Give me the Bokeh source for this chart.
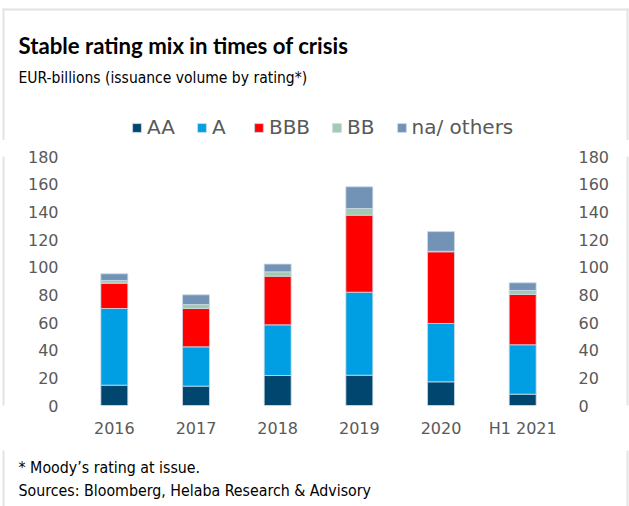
from bokeh.plotting import figure
from bokeh.layouts import column, row
from bokeh.models import (ColumnDataSource, FactorRange, Range1d, LinearAxis, Legend,
                          LegendItem, Label, FixedTicker, BoxAnnotation)
from bokeh.embed import file_html
from bokeh.resources import INLINE

# ---- data ----
years = ["2016", "2017", "2018", "2019", "2020", "H1 2021"]
aa = [14.7, 14.0, 21.7, 21.9, 17.1, 8.2]
a = [55.4, 28.4, 36.6, 60.0, 42.2, 35.7]
bbb = [18.3, 27.7, 35.2, 55.7, 51.8, 36.4]
bb = [2.0, 2.9, 3.1, 4.8, 0.4, 2.9]
others = [4.8, 7.0, 5.6, 15.7, 14.2, 5.5]
series = ["AA", "A", "BBB", "BB", "na/ others"]
colors = ["#00466f", "#009fe3", "#ff0000", "#a1cbb1", "#7293b5"]
y_ticks = [0, 20, 40, 60, 80, 100, 120, 140, 160, 180]

W, H = 629, 506
TOP_H, BOT_H = 140, 56
MID_H = H - TOP_H - BOT_H
STRIP = 8
FRAME_GREY = "#e3e3e3"
label_color = "#595959"
tick_font = "DejaVu Sans"
head_font = "Lato"
text_font = "DejaVu Sans Condensed"
LIFT = 7  # Label baseline correction


def blank(width, height, x_range=None):
    f = figure(width=width, height=height, x_range=x_range or Range1d(0, 1),
               y_range=Range1d(0, 1), output_backend="svg", toolbar_location=None,
               x_axis_location=None, y_axis_location=None, min_border=0)
    f.outline_line_color = None
    f.grid.grid_line_color = None
    f.background_fill_color = "white"
    f.border_fill_color = "white"
    return f


def border(f, left, right, top, bottom):
    f.add_layout(BoxAnnotation(left=left, right=right, top=top, bottom=bottom,
                               left_units="screen", right_units="screen",
                               top_units="screen", bottom_units="screen",
                               fill_color=FRAME_GREY, fill_alpha=1, line_alpha=0))


def lab(f, fh, text, px, pbase, size, bold=False, font=text_font, color="#000000"):
    f.add_layout(Label(x=px, y=fh - pbase + LIFT, x_units="screen", y_units="screen", text=text,
                       text_font=font, text_font_size=size,
                       text_font_style="bold" if bold else "normal",
                       text_color=color, text_baseline="alphabetic"))


src = ColumnDataSource(dict(year=years, AA=aa, A=a, BBB=bbb, BB=bb, **{"na/ others": others}))

# ---- header: title, subtitle, legend ----
top = blank(W, TOP_H, x_range=FactorRange(*years))
lrs = top.vbar_stack(series, x="year", width=0.33, source=src, color=colors,
                     line_color="#cbd9e6", line_width=0.8)
for r in lrs:
    r.visible = False  # legend keys only; the bars are drawn in the main chart
lab(top, TOP_H, "Stable rating mix in times of crisis", 18, 52, "22.2px", bold=True, font=head_font)
lab(top, TOP_H, "EUR-billions (issuance volume by rating*)", 18, 84, "15.5px")
leg = Legend(items=[LegendItem(label=s, renderers=[r]) for s, r in zip(series, lrs)],
             orientation="horizontal", location=(131, 1),
             glyph_width=11, glyph_height=11, label_standoff=5, spacing=21,
             padding=0, margin=0, border_line_color=None, background_fill_alpha=0,
             inactive_fill_alpha=0,
             label_text_font=tick_font, label_text_font_size="20px",
             label_text_color=label_color, label_height=11)
top.add_layout(leg, "center")
border(top, 2, 628, TOP_H - 8, TOP_H - 10)
border(top, 2, 4, TOP_H - 8, -5)
border(top, 626, 628, TOP_H - 8, -5)

# ---- main chart ----
p = figure(width=W - 2 * STRIP, height=MID_H, x_range=FactorRange(*years),
           y_range=Range1d(0, 180), output_backend="svg", toolbar_location=None,
           y_axis_location=None, min_border_left=73 - STRIP, min_border_right=W - STRIP - 563,
           min_border_top=156 - TOP_H, min_border_bottom=TOP_H + MID_H - 405)
p.outline_line_color = None
p.background_fill_color = "white"
p.border_fill_color = "white"
p.xgrid.grid_line_color = None
p.ygrid.grid_line_color = None

p.vbar_stack(series, x="year", width=0.33, source=src, color=colors,
             line_color="#cbd9e6", line_width=0.8)

for loc in ("left", "right"):
    ax = LinearAxis(ticker=FixedTicker(ticks=y_ticks))
    p.add_layout(ax, loc)
for ax in p.axis:
    ax.axis_line_color = None
    ax.major_tick_line_color = None
    ax.minor_tick_line_color = None
    ax.major_tick_out = 0
    ax.major_tick_in = 0
    ax.major_label_text_font = tick_font
    ax.major_label_text_font_size = "16px"
    ax.major_label_text_color = label_color
    ax.major_label_standoff = 15
p.xaxis[0].major_label_standoff = 13

left_strip = blank(STRIP, MID_H)
border(left_strip, 2, 4, MID_H + 5, -5)
right_strip = blank(STRIP, MID_H)
border(right_strip, 626 - (W - STRIP), 628 - (W - STRIP), MID_H + 5, -5)

# ---- footer ----
bot = blank(W, BOT_H)
base = H - BOT_H
lab(bot, BOT_H, "* Moody\u2019s rating at issue.", 18, 473.5 - base, "15.8px")
lab(bot, BOT_H, "Sources: Bloomberg, Helaba Research & Advisory", 18, 496.5 - base, "15.8px")
border(bot, 2, 4, BOT_H + 5, -5)
border(bot, 626, 628, BOT_H + 5, -5)

layout = column(top, row(left_strip, p, right_strip), bot)
open("out.html", "w").write(file_html(layout, INLINE))
